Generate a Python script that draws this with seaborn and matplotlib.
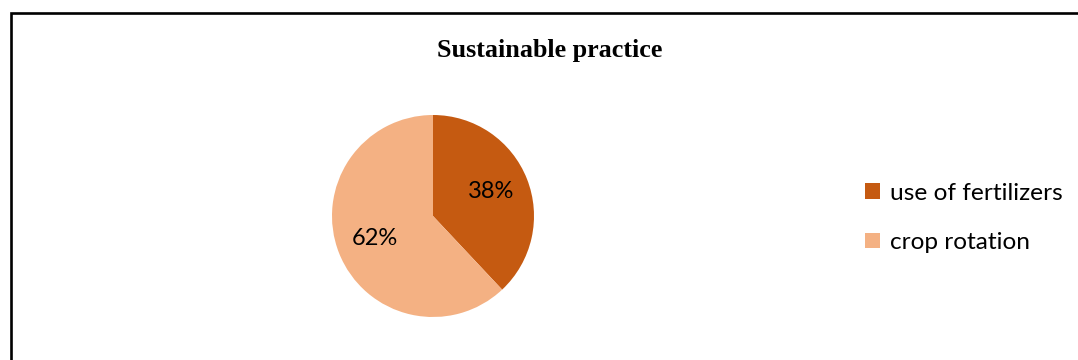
import matplotlib
matplotlib.use("Agg")
import matplotlib.pyplot as plt
from matplotlib.patches import Patch, Rectangle
import seaborn as sns

# Survey shares of sustainable practices
categories = ["use of fertilizers", "crop rotation"]
shares = [38, 62]
slice_colors = ["#C55A11", "#F4B183"]
title = "Sustainable practice"

sns.set_theme(style="white")
plt.rcParams["font.family"] = ["Lato", "DejaVu Sans"]
plt.rcParams["text.color"] = "black"

W, H = 1078, 360
fig = plt.figure(figsize=(W / 100, H / 100), dpi=100)
fig.patch.set_facecolor("white")

# Pie axes: centre (433, 216) px, radius 101 px
cx, cy, r = 433, 216, 101
ax = fig.add_axes([(cx - r) / W, (H - cy - r) / H, 2 * r / W, 2 * r / H])
palette = sns.color_palette(slice_colors)
wedges, texts, autotexts = ax.pie(
    shares,
    colors=palette,
    startangle=90,
    counterclock=False,
    autopct="%1.0f%%",
    pctdistance=0.62,
    radius=1,
    wedgeprops=dict(linewidth=0),
    textprops=dict(fontsize=17, color="black"),
)
for t in autotexts:
    t.set_y(t.get_position()[1] + 0.01)
ax.set_xlim(-1, 1)
ax.set_ylim(-1, 1)
ax.set_aspect("equal")
ax.axis("off")

# Title
fig.text(550 / W, 1 - 50 / H, title, ha="center", va="center", color="black",
         fontfamily="Liberation Serif", fontweight="bold", fontsize=18.8)

# Legend
handles = [Patch(facecolor=c, edgecolor="none", label=l) for c, l in zip(palette, categories)]
fig.legend(handles=handles, loc="center left", bbox_to_anchor=(865 / W, 1 - 218 / H),
           frameon=False, fontsize=17.6, handlelength=0.62, handleheight=0.62,
           handletextpad=0.42, labelspacing=1.15, borderpad=0, borderaxespad=0,
           labelcolor="black")

# Chart frame (only left and top edges fall inside the image)
fig.add_artist(Rectangle((11 / W, -0.2), 2.0, 1.2 - 12.5 / H,
                         transform=fig.transFigure, fill=False,
                         edgecolor="black", linewidth=1.9, clip_on=False))

fig.savefig("out.png", dpi=100, facecolor="white")
